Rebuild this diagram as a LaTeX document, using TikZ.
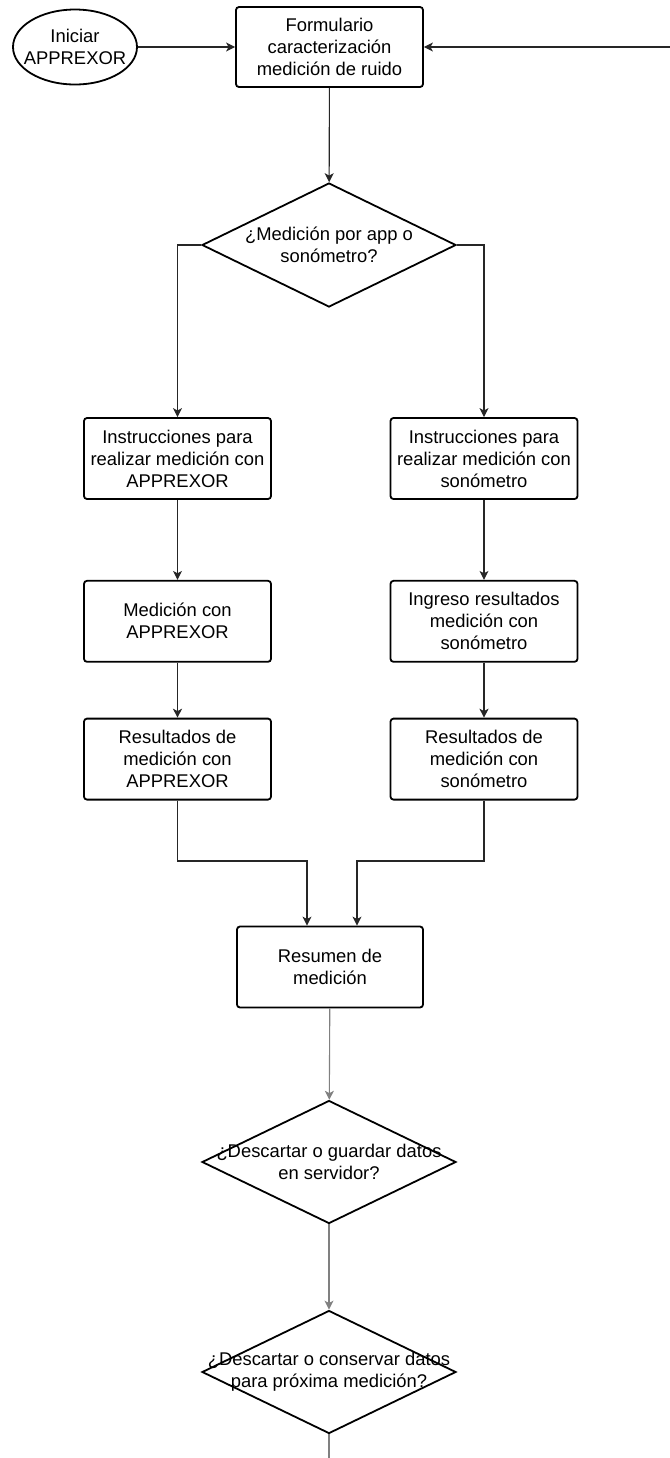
\documentclass[tikz,border=0pt]{standalone}
\usepackage{fontspec}
\setmainfont{Liberation Sans}
\usetikzlibrary{positioning,shapes.geometric,arrows.meta}

\tikzstyle{stepbox} = [draw=black, fill=white, line width=0.9pt,
    rectangle, rounded corners=1.5pt, minimum width=93.5pt, minimum height=40.5pt,
    inner sep=0pt, align=center]
\tikzstyle{startbubble} = [draw=black, fill=white, line width=0.9pt,
    ellipse, minimum width=62pt, minimum height=37.5pt, inner sep=0pt]
\tikzstyle{decision} = [draw=black, fill=white, line width=0.9pt,
    diamond, minimum width=127pt, minimum height=62pt, inner sep=0pt]
\tikzstyle{link} = [draw=black!85, line width=0.55pt,
    -{Stealth[length=4.5pt,width=4.5pt,inset=1.2pt]}]
\tikzstyle{greylink} = [link, draw=black!50]

\begin{document}
\begin{tikzpicture}[x=1pt, y=1pt, font=\fontsize{9.2}{11}\selectfont]
\useasboundingbox (0,0) rectangle (335,-729);

% top row
\node[startbubble, label={[align=center]center:Iniciar\\APPREXOR}] (start) at (37.5,-23.5) {};
\node[stepbox, minimum height=40pt] (form) at (164.75,-23.5) {Formulario\\caracterización\\medición de ruido};
\coordinate (back) at (335,-23.5);

\node[decision, label={[align=center]center:¿Medición por app o\\sonómetro?}] (choice) at (164.5,-122.5) {};

% app branch
\node[stepbox] (appinfo) at (88.75,-229.25) {Instrucciones para\\realizar medición con\\APPREXOR};
\node[stepbox, below=40pt of appinfo] (appmeas) {Medición con\\APPREXOR};
\node[stepbox, below=27.5pt of appmeas] (appres) {Resultados de\\medición con\\APPREXOR};

% sonometer branch
\node[stepbox] (soninfo) at (242,-229.25) {Instrucciones para\\realizar medición con\\sonómetro};
\node[stepbox, below=40pt of soninfo] (sonentry) {Ingreso resultados\\medición con\\sonómetro};
\node[stepbox, below=27.5pt of sonentry] (sonres) {Resultados de\\medición con\\sonómetro};

\node[stepbox, minimum width=93pt] (summary) at (165,-483.5) {Resumen de\\medición};
\coordinate (joinA) at (153.5,-430.5);
\coordinate (joinB) at (178.5,-430.5);

\node[decision, minimum height=61.5pt, label={[align=center]center:¿Descartar o guardar datos\\en servidor?}] (server) at (164.5,-581) {};
\node[decision, minimum height=61.5pt, label={[align=center]center:¿Descartar o conservar datos\\para próxima medición?}] (keep) at (164.5,-686) {};
\coordinate (tail) at (164.5,-729);

\draw[link] (start) -- (form);
\draw[link] (back) -- (form);
\draw[link] (form) -- (choice);
\draw[link] (choice.west) -| (appinfo);
\draw[link] (choice.east) -| (soninfo);
\draw[link] (appinfo) -- (appmeas);
\draw[link] (appmeas) -- (appres);
\draw[link] (soninfo) -- (sonentry);
\draw[link] (sonentry) -- (sonres);
\draw[link] (appres) |- (joinA) -- (joinA |- summary.north);
\draw[link] (sonres) |- (joinB) -- (joinB |- summary.north);
\draw[greylink] (summary) -- (server);
\draw[greylink] (server) -- (keep);
\draw[greylink, -] (keep) -- (tail);
\end{tikzpicture}
\end{document}
